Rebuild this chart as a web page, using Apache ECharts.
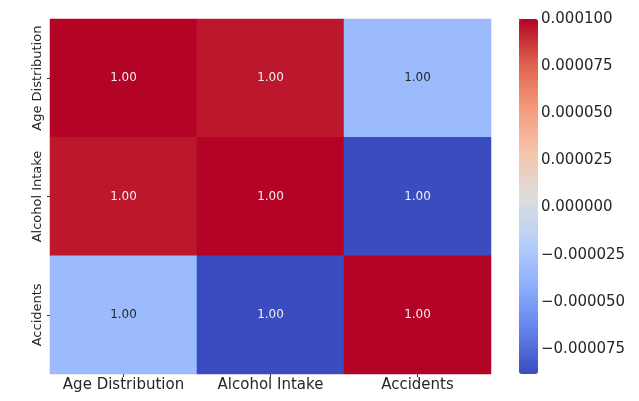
<!DOCTYPE html>
<html>
<head>
<meta charset="utf-8">
<script src="https://cdn.jsdelivr.net/npm/echarts@6/dist/echarts.min.js"></script>
<style>
  html, body { margin: 0; padding: 0; background: #fff; }
  #main { width: 639px; height: 401px; }
</style>
</head>
<body>
<div id="main"></div>
<script>
var labels = ['Age Distribution', 'Alcohol Intake', 'Accidents']
var corrRows = [
  [1.0, 0.9999951, 0.9998665],
  [0.9999951, 1.0, 0.9998117],
  [0.9998665, 0.9998117, 1.0]
]
var cbOffset = 0.9999
var cbMin = 0.9998117
var cbMax = 1.0
var cbTicks = [-0.000075, -0.00005, -0.000025, 0, 0.000025, 0.00005, 0.000075, 0.0001]
var coolwarm = ['#3b4cc0', '#6282ea', '#8db0fe', '#b8d0f9', '#dddddd', '#f5c4ac', '#f49a7b', '#de604d', '#b40426']

var myChart = echarts.init(document.getElementById('main'))

function off(v) {
  // value on the colorbar axis, shown relative to the offset
  return Math.round((v - cbOffset) * 1e10) / 1e10
}

let cells = []
for (let i = 0; i < labels.length; i++) {
  for (let j = 0; j < labels.length; j++) {
    let v = corrRows[i][j]
    let pos = (v - cbMin) / (cbMax - cbMin)
    // light cells get dark text, like seaborn
    let txt = (pos > 0.2 && pos < 0.8) ? '#262626' : '#f0f0f0'
    cells.push({ value: [j, i, v], label: { color: txt } })
  }
}

let option = {
  backgroundColor: '#fff',
  animation: false,
  grid: [
    { left: 50, top: 19, width: 441, height: 355 },
    { left: 519, top: 19, width: 19, height: 355, show: false }
  ],
  xAxis: [{
    type: 'category',
    data: labels,
    gridIndex: 0,
    axisLine: { show: false },
    axisTick: { show: true, alignWithLabel: true, length: 3, lineStyle: { color: '#333' } },
    axisLabel: { interval: 0, color: '#262626', fontSize: 15, fontFamily: 'DejaVu Sans', margin: 4 },
    splitArea: { show: false }
  }, {
    type: 'value',
    gridIndex: 1,
    show: false
  }],
  yAxis: [{
    type: 'category',
    data: labels,
    inverse: true,
    gridIndex: 0,
    axisLine: { show: false },
    axisTick: { show: true, alignWithLabel: true, length: 3, lineStyle: { color: '#333' } },
    axisLabel: { interval: 0, color: '#262626', fontSize: 13, fontFamily: 'DejaVu Sans', rotate: 90, margin: 6 }
  }, {
    type: 'value',
    gridIndex: 1,
    position: 'right',
    min: off(cbMin),
    max: off(cbMax),
    axisLine: { show: false },
    splitLine: { show: false },
    axisTick: { show: true, length: 3, customValues: cbTicks, lineStyle: { color: '#333' } },
    axisLabel: {
      show: true,
      customValues: cbTicks,
      showMaxLabel: true,
      color: '#262626',
      fontSize: 15,
      fontFamily: 'DejaVu Sans',
      margin: 3,
      formatter: function (v) {
        return (v < -1e-12 ? '\u2212' : '') + Math.abs(v).toFixed(6)
      }
    }
  }],
  visualMap: {
    type: 'continuous',
    min: cbMin,
    max: cbMax,
    calculable: false,
    seriesIndex: 0,
    orient: 'vertical',
    left: 519,
    top: 19,
    padding: 0,
    itemWidth: 19,
    itemHeight: 355,
    text: ['', ''],
    showLabel: false,
    inRange: { color: coolwarm }
  },
  series: [{
    type: 'heatmap',
    xAxisIndex: 0,
    yAxisIndex: 0,
    data: cells,
    label: {
      show: true,
      fontSize: 12,
      fontFamily: 'DejaVu Sans',
      formatter: function (p) { return p.value[2].toFixed(2) }
    },
    itemStyle: { borderWidth: 0 },
    emphasis: { disabled: true }
  }]
}
myChart.setOption(option)
</script>
</body>
</html>
